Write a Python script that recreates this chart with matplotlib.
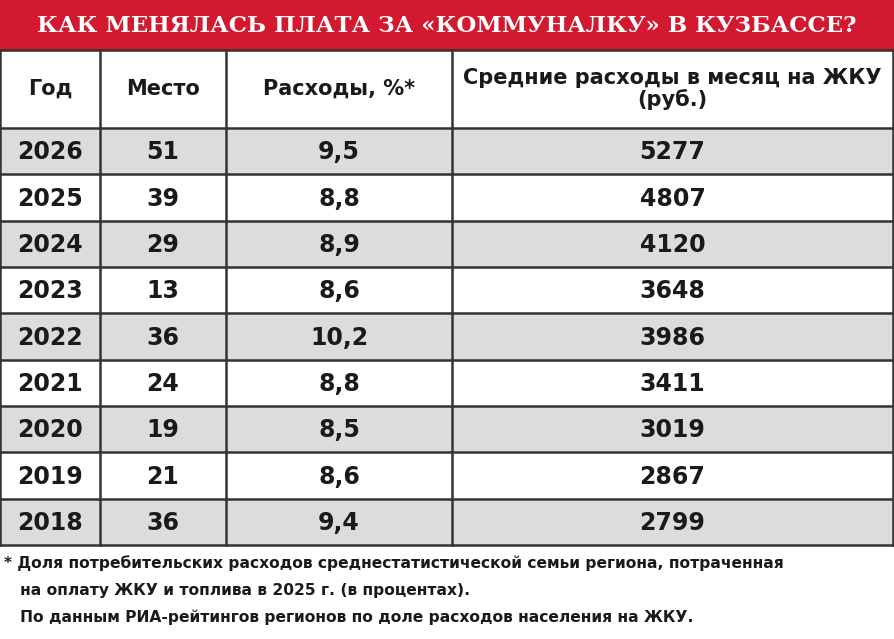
import matplotlib.pyplot as plt
from matplotlib.patches import Rectangle

title = 'КАК МЕНЯЛАСЬ ПЛАТА ЗА «КОММУНАЛКУ» В КУЗБАССЕ?'
headers = ['Год', 'Место', 'Расходы, %*', 'Средние расходы в месяц на ЖКУ\n(руб.)']
years = ['2026', '2025', '2024', '2023', '2022', '2021', '2020', '2019', '2018']
places = ['51', '39', '29', '13', '36', '24', '19', '21', '36']
shares = ['9,5', '8,8', '8,9', '8,6', '10,2', '8,8', '8,5', '8,6', '9,4']
costs = ['5277', '4807', '4120', '3648', '3986', '3411', '3019', '2867', '2799']
footnote = ['* Доля потребительских расходов среднестатистической семьи региона, потраченная',
            '   на оплату ЖКУ и топлива в 2025 г. (в процентах).',
            '   По данным РИА-рейтингов регионов по доле расходов населения на ЖКУ.']

plt.rcParams['font.family'] = ['DejaVu Sans']

fig = plt.figure(figsize=(8.94, 6.39), dpi=100)
ax = fig.add_axes([0, 0, 1, 1])
ax.set_xlim(0, 894)
ax.set_ylim(639, 0)
ax.axis('off')

col_x = [0, 100, 226, 452, 893]
top, head_bottom, bottom = 50, 128, 545
row_h = (bottom - head_bottom) / len(years)

# title band
ax.add_patch(Rectangle((0, 0), 894, top, color='#d3192f'))
ax.text(447, 26, title, color='white', ha='center', va='center', fontsize=16.5,
        fontweight='bold', family=['DejaVu Serif Condensed', 'DejaVu Serif'])

# header
for i, h in enumerate(headers):
    cx = (col_x[i] + col_x[i + 1]) / 2
    ax.text(cx, (top + head_bottom) / 2, h, ha='center', va='center', fontsize=15,
            fontweight='bold', color='#1a1a1a', linespacing=1.1)

# rows
for r, vals in enumerate(zip(years, places, shares, costs)):
    y0 = head_bottom + r * row_h
    if r % 2 == 0:
        ax.add_patch(Rectangle((0, y0), 894, row_h, color='#dcdcdc', zorder=0))
    for i, v in enumerate(vals):
        cx = (col_x[i] + col_x[i + 1]) / 2
        ax.text(cx, y0 + row_h / 2 + 1, v, ha='center', va='center', fontsize=17,
                fontweight='bold', color='#1a1a1a')

# grid lines
for x in col_x:
    ax.plot([x, x], [top, bottom], color='#333333', lw=1.8)
ax.plot([0, 894], [top, top], color='#333333', lw=1.8)
ax.plot([0, 894], [head_bottom, head_bottom], color='#333333', lw=1.8)
for r in range(len(years)):
    y = head_bottom + (r + 1) * row_h
    ax.plot([0, 894], [y, y], color='#333333', lw=1.8)

for k, line in enumerate(footnote):
    ax.text(4, 563 + k * 27, line, ha='left', va='center', fontsize=11.2,
            fontweight='bold', color='#1a1a1a')

fig.savefig('out.png', dpi=100)
